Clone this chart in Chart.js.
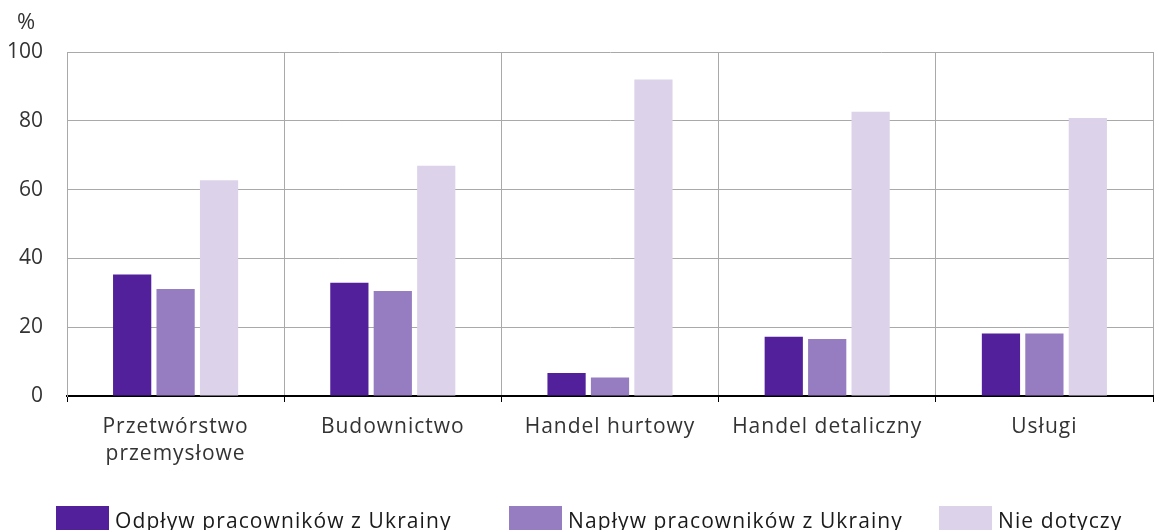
<!DOCTYPE html>
<html>
<head>
<meta charset="utf-8">
<script src="https://cdn.jsdelivr.net/npm/chart.js@4/dist/chart.umd.min.js"></script>
<style>
  html, body { margin: 0; padding: 0; background: #fff; overflow: hidden; }
  #wrap { position: relative; width: 1155px; height: 530px; }
  #legend { position: absolute; top: 506px; left: 0; width: 1155px; height: 40px; font-family: "Open Sans", sans-serif; font-size: 21px; letter-spacing: 1.1px; color: #1a1a1a; }
  .item { position: absolute; top: 0; display: flex; align-items: flex-start; white-space: nowrap; }
  .box { width: 53px; height: 30px; margin-right: 6px; }
  .txt { line-height: 28px; margin-top: 0px; }
</style>
</head>
<body>
<div id="wrap">
  <canvas id="c" width="1155" height="530"></canvas>
  <div id="legend"></div>
</div>
<script>
const categories = [['Przetwórstwo', 'przemysłowe'], 'Budownictwo', 'Handel hurtowy', 'Handel detaliczny', 'Usługi'];
const outflow = [35.3, 32.9, 6.7, 17.2, 18.2];
const inflow = [31.1, 30.5, 5.4, 16.6, 18.2];
const notApplicable = [62.7, 66.9, 92.0, 82.6, 80.8];
const seriesLabels = ['Odpływ pracowników z Ukrainy', 'Napływ pracowników z Ukrainy', 'Nie dotyczy'];
const seriesColors = ['#51209a', '#967cc1', '#dcd3ea'];
const yTicks = [0, 20, 40, 60, 80, 100];
const unitLabel = '%';

const FONT = '"Open Sans", sans-serif';
const TEXT = '#333333';
const GRID = '#a9a9a9';

const unitPlugin = {
  id: 'unitLabel',
  afterUpdate(chart) {
    const xs = chart.scales.x;
    if (xs && !xs._spaced) {
      const orig = xs.drawLabels;
      xs.drawLabels = function (area) {
        const ctx = this.ctx;
        ctx.save();
        ctx.letterSpacing = '1px';
        orig.call(this, area);
        ctx.restore();
      };
      xs._spaced = true;
    }
  },
  afterDraw(chart) {
    const ctx = chart.ctx;
    const ys = chart.scales.y;
    ctx.save();
    ctx.font = '22px ' + FONT;
    ctx.fillStyle = TEXT;
    ctx.textAlign = 'center';
    ctx.textBaseline = 'middle';
    ctx.fillText(unitLabel, ys.right - 41, chart.chartArea.top - 29);
    ctx.restore();
  }
};

const seriesData = [outflow, inflow, notApplicable];
const chart = new Chart(document.getElementById('c'), {
  type: 'bar',
  data: {
    labels: categories,
    datasets: seriesLabels.map((lbl, i) => ({
      label: lbl,
      data: seriesData[i],
      backgroundColor: seriesColors[i],
      borderWidth: 0,
      categoryPercentage: 0.6,
      barPercentage: 0.88
    }))
  },
  options: {
    responsive: false,
    animation: false,
    layout: { padding: { top: 52, left: 0, right: 2, bottom: 0 } },
    plugins: { legend: { display: false }, tooltip: { enabled: false } },
    scales: {
      x: {
        afterFit(s) { s.height = 134; },
        grid: { display: true, offset: true, color: GRID, lineWidth: 1, tickColor: '#000', tickLength: 6, drawTicks: true },
        border: { display: true, color: '#000', width: 2 },
        ticks: { color: TEXT, font: { family: FONT, size: 21, lineHeight: 1.27 }, padding: 12, maxRotation: 0, autoSkip: false }
      },
      y: {
        min: 0, max: 100,
        afterFit(s) { s.width = 67; },
        afterBuildTicks(s) { s.ticks = yTicks.map(v => ({ value: v })); },
        grid: { color: GRID, lineWidth: 1, drawTicks: false },
        border: { display: true, color: GRID, width: 1 },
        ticks: { color: TEXT, font: { family: FONT, size: 21 }, padding: 24 }
      }
    }
  },
  plugins: [unitPlugin]
});

const legendLefts = [56, 509, 939];
const legend = document.getElementById('legend');
seriesLabels.forEach((lbl, i) => {
  const it = document.createElement('div');
  it.className = 'item';
  it.style.left = legendLefts[i] + 'px';
  const b = document.createElement('div');
  b.className = 'box';
  b.style.background = seriesColors[i];
  const t = document.createElement('div');
  t.className = 'txt';
  t.textContent = lbl;
  it.appendChild(b); it.appendChild(t);
  legend.appendChild(it);
});
</script>
</body>
</html>
